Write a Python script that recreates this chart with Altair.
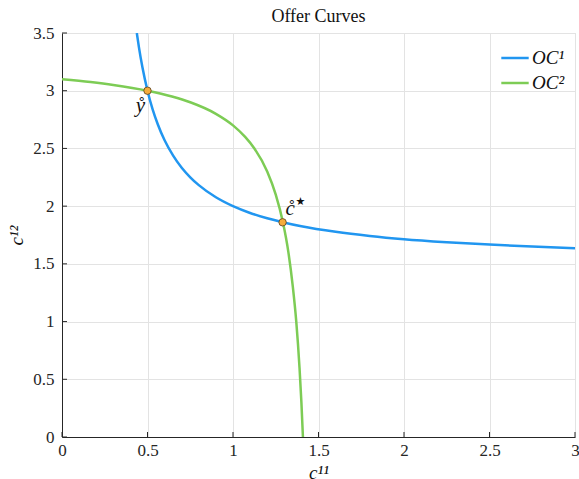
import altair as alt
import pandas as pd

# Offer curve of agent 1 (sampled along c11)
oc1_x = [0.4375, 0.45, 0.47, 0.50, 0.53, 0.56, 0.60, 0.65, 0.70, 0.75, 0.80, 0.90,
         1.00, 1.10, 1.20, 1.29, 1.40, 1.60, 1.80, 2.00, 2.25, 2.50, 2.75, 3.00]
oc1_y = [3.500, 3.375, 3.205, 3.000, 2.839, 2.710, 2.571, 2.438, 2.333, 2.250, 2.182, 2.077,
         2.000, 1.941, 1.895, 1.861, 1.826, 1.778, 1.742, 1.714, 1.688, 1.667, 1.650, 1.636]

# Offer curve of agent 2 (sampled along c12)
oc2_x = [0.000, 0.167, 0.300, 0.500, 0.643, 0.750, 0.900, 1.000, 1.071, 1.125, 1.200,
         1.250, 1.292, 1.324, 1.350, 1.370, 1.389, 1.400, 1.409]
oc2_y = [3.100, 3.075, 3.050, 3.000, 2.950, 2.900, 2.800, 2.700, 2.600, 2.500, 2.300,
         2.100, 1.860, 1.600, 1.300, 1.000, 0.600, 0.300, 0.000]

# Marked allocations: endowment and equilibrium
pt_names = ["endow", "equil"]
pt_x = [0.50, 1.29]
pt_y = [3.00, 1.86]
pt_text = ["ẙ", "c̊"]

x_ticks = [0, 0.5, 1, 1.5, 2, 2.5, 3]
y_ticks = [0, 0.5, 1, 1.5, 2, 2.5, 3, 3.5]

series = ["OC¹", "OC²"]
colors = ["#2196f0", "#7dcc55"]

lines = pd.concat([
    pd.DataFrame({"x": oc1_x, "y": oc1_y, "s": series[0], "i": range(len(oc1_x))}),
    pd.DataFrame({"x": oc2_x, "y": oc2_y, "s": series[1], "i": range(len(oc2_x))}),
])
pts = pd.DataFrame({"name": pt_names, "x": pt_x, "y": pt_y, "t": pt_text})

FONT = "Liberation Serif"
W, H = 513, 404

xs = alt.Scale(domain=[0, 3], nice=False, zero=False)
ys = alt.Scale(domain=[0, 3.5], nice=False, zero=False)

x_axis = alt.Axis(values=x_ticks, format="~g", title="c¹¹", titlePadding=5,
                  labelPadding=5, labelFlush=False)
y_axis = alt.Axis(values=y_ticks, format="~g", title="c¹²", titlePadding=6,
                  labelPadding=8, labelFlush=False)

base_lines = alt.Chart(lines).mark_line(strokeWidth=2.5, clip=True,
                                        interpolate="monotone").encode(
    x=alt.X("x:Q", scale=xs, axis=x_axis),
    y=alt.Y("y:Q", scale=ys, axis=y_axis),
    color=alt.Color("s:N", scale=alt.Scale(domain=series, range=colors),
                    legend=alt.Legend(title=None, orient="none", legendX=438, legendY=10,
                                      symbolType="stroke", symbolSize=750,
                                      symbolStrokeWidth=2.5, labelFont=FONT,
                                      labelFontSize=19, labelFontStyle="italic",
                                      labelColor="#111", rowPadding=0, symbolOffset=0,
                                      labelOffset=2)),
    order="i:Q",
)

# Inward tick marks along the bottom and left edges
xt = pd.DataFrame({"v": x_ticks})
yt = pd.DataFrame({"v": y_ticks})
bottom_ticks = alt.Chart(xt).mark_rule(color="#262626", strokeWidth=1).encode(
    x=alt.X("v:Q", scale=xs), y=alt.value(H), y2=alt.value(H - 5))
left_ticks = alt.Chart(yt).mark_rule(color="#262626", strokeWidth=1).encode(
    y=alt.Y("v:Q", scale=ys), x=alt.value(0), x2=alt.value(5))

points = alt.Chart(pts).mark_point(filled=True, size=55, fill="#f5ac3c",
                                   stroke="#5a4020", strokeWidth=0.8, opacity=1).encode(
    x=alt.X("x:Q", scale=xs), y=alt.Y("y:Q", scale=ys))

lab_endow = alt.Chart(pts).transform_filter(alt.datum.name == "endow").mark_text(
    font=FONT, fontSize=21, fontStyle="italic", dx=-7, dy=15, color="#111").encode(
    x=alt.X("x:Q", scale=xs), y=alt.Y("y:Q", scale=ys), text="t:N")
lab_equil = alt.Chart(pts).transform_filter(alt.datum.name == "equil").mark_text(
    font=FONT, fontSize=21, fontStyle="italic", align="left", dx=3, dy=-13,
    color="#111").encode(
    x=alt.X("x:Q", scale=xs), y=alt.Y("y:Q", scale=ys), text="t:N")
star_equil = alt.Chart(pts).transform_filter(alt.datum.name == "equil").mark_text(
    font="DejaVu Sans", fontSize=11, text="★", align="left", dx=13, dy=-20,
    color="#111").encode(
    x=alt.X("x:Q", scale=xs), y=alt.Y("y:Q", scale=ys))

chart = alt.layer(base_lines, bottom_ticks, left_ticks, points,
                  lab_endow, lab_equil, star_equil).properties(
    width=W, height=H,
    title=alt.Title("Offer Curves", font=FONT, fontSize=18, fontWeight="normal",
                    color="#111", offset=-2),
    autosize=alt.AutoSizeParams(type="none"),
    padding={"left": 62, "top": 33, "right": 4, "bottom": 42},
).configure_view(stroke="#808080", strokeWidth=1.2).configure(
    background="white"
).configure_axis(
    labelFont=FONT, labelFontSize=17, labelColor="#262626", tickSize=0,
    titleFont=FONT, titleFontSize=19, titleFontStyle="italic",
    titleFontWeight="normal", titleColor="#111", domainColor="#262626",
    gridColor="#e3e3e3"
)

chart.save("out.html", embed_options={"renderer": "svg", "actions": False})
